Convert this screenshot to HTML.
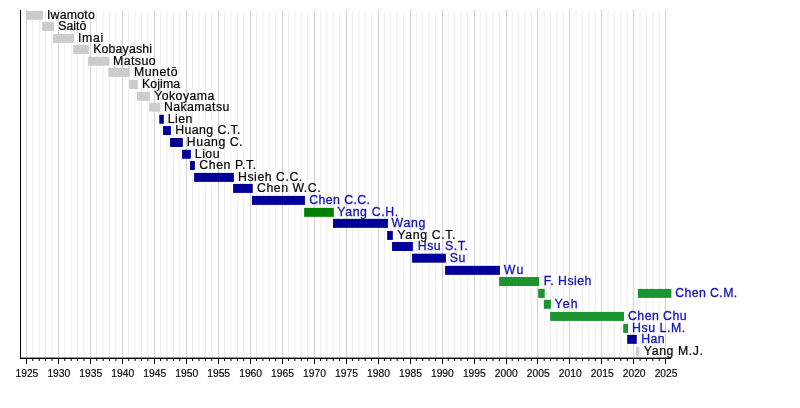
<!DOCTYPE html><html><head><meta charset="utf-8"><style>html,body{margin:0;padding:0;background:#fff;}svg{display:block}text{font-family:"Liberation Sans",sans-serif;} .t{filter:blur(0.3px)}</style></head><body>
<svg width="800" height="408" viewBox="0 0 800 408">
<rect x="0" y="0" width="800" height="408" fill="#fff"/>
<line x1="32.78" y1="11" x2="32.78" y2="357.5" stroke="#ededed" stroke-width="1"/>
<line x1="39.18" y1="11" x2="39.18" y2="357.5" stroke="#ededed" stroke-width="1"/>
<line x1="45.57" y1="11" x2="45.57" y2="357.5" stroke="#ededed" stroke-width="1"/>
<line x1="51.96" y1="11" x2="51.96" y2="357.5" stroke="#ededed" stroke-width="1"/>
<line x1="64.75" y1="11" x2="64.75" y2="357.5" stroke="#ededed" stroke-width="1"/>
<line x1="71.14" y1="11" x2="71.14" y2="357.5" stroke="#ededed" stroke-width="1"/>
<line x1="77.53" y1="11" x2="77.53" y2="357.5" stroke="#ededed" stroke-width="1"/>
<line x1="83.92" y1="11" x2="83.92" y2="357.5" stroke="#ededed" stroke-width="1"/>
<line x1="96.71" y1="11" x2="96.71" y2="357.5" stroke="#ededed" stroke-width="1"/>
<line x1="103.10" y1="11" x2="103.10" y2="357.5" stroke="#ededed" stroke-width="1"/>
<line x1="109.49" y1="11" x2="109.49" y2="357.5" stroke="#ededed" stroke-width="1"/>
<line x1="115.88" y1="11" x2="115.88" y2="357.5" stroke="#ededed" stroke-width="1"/>
<line x1="128.67" y1="11" x2="128.67" y2="357.5" stroke="#ededed" stroke-width="1"/>
<line x1="135.06" y1="11" x2="135.06" y2="357.5" stroke="#ededed" stroke-width="1"/>
<line x1="141.45" y1="11" x2="141.45" y2="357.5" stroke="#ededed" stroke-width="1"/>
<line x1="147.84" y1="11" x2="147.84" y2="357.5" stroke="#ededed" stroke-width="1"/>
<line x1="160.63" y1="11" x2="160.63" y2="357.5" stroke="#ededed" stroke-width="1"/>
<line x1="167.02" y1="11" x2="167.02" y2="357.5" stroke="#ededed" stroke-width="1"/>
<line x1="173.41" y1="11" x2="173.41" y2="357.5" stroke="#ededed" stroke-width="1"/>
<line x1="179.80" y1="11" x2="179.80" y2="357.5" stroke="#ededed" stroke-width="1"/>
<line x1="192.59" y1="11" x2="192.59" y2="357.5" stroke="#ededed" stroke-width="1"/>
<line x1="198.98" y1="11" x2="198.98" y2="357.5" stroke="#ededed" stroke-width="1"/>
<line x1="205.37" y1="11" x2="205.37" y2="357.5" stroke="#ededed" stroke-width="1"/>
<line x1="211.76" y1="11" x2="211.76" y2="357.5" stroke="#ededed" stroke-width="1"/>
<line x1="224.55" y1="11" x2="224.55" y2="357.5" stroke="#ededed" stroke-width="1"/>
<line x1="230.94" y1="11" x2="230.94" y2="357.5" stroke="#ededed" stroke-width="1"/>
<line x1="237.33" y1="11" x2="237.33" y2="357.5" stroke="#ededed" stroke-width="1"/>
<line x1="243.73" y1="11" x2="243.73" y2="357.5" stroke="#ededed" stroke-width="1"/>
<line x1="256.51" y1="11" x2="256.51" y2="357.5" stroke="#ededed" stroke-width="1"/>
<line x1="262.90" y1="11" x2="262.90" y2="357.5" stroke="#ededed" stroke-width="1"/>
<line x1="269.29" y1="11" x2="269.29" y2="357.5" stroke="#ededed" stroke-width="1"/>
<line x1="275.69" y1="11" x2="275.69" y2="357.5" stroke="#ededed" stroke-width="1"/>
<line x1="288.47" y1="11" x2="288.47" y2="357.5" stroke="#ededed" stroke-width="1"/>
<line x1="294.86" y1="11" x2="294.86" y2="357.5" stroke="#ededed" stroke-width="1"/>
<line x1="301.25" y1="11" x2="301.25" y2="357.5" stroke="#ededed" stroke-width="1"/>
<line x1="307.65" y1="11" x2="307.65" y2="357.5" stroke="#ededed" stroke-width="1"/>
<line x1="320.43" y1="11" x2="320.43" y2="357.5" stroke="#ededed" stroke-width="1"/>
<line x1="326.82" y1="11" x2="326.82" y2="357.5" stroke="#ededed" stroke-width="1"/>
<line x1="333.22" y1="11" x2="333.22" y2="357.5" stroke="#ededed" stroke-width="1"/>
<line x1="339.61" y1="11" x2="339.61" y2="357.5" stroke="#ededed" stroke-width="1"/>
<line x1="352.39" y1="11" x2="352.39" y2="357.5" stroke="#ededed" stroke-width="1"/>
<line x1="358.78" y1="11" x2="358.78" y2="357.5" stroke="#ededed" stroke-width="1"/>
<line x1="365.18" y1="11" x2="365.18" y2="357.5" stroke="#ededed" stroke-width="1"/>
<line x1="371.57" y1="11" x2="371.57" y2="357.5" stroke="#ededed" stroke-width="1"/>
<line x1="384.35" y1="11" x2="384.35" y2="357.5" stroke="#ededed" stroke-width="1"/>
<line x1="390.75" y1="11" x2="390.75" y2="357.5" stroke="#ededed" stroke-width="1"/>
<line x1="397.14" y1="11" x2="397.14" y2="357.5" stroke="#ededed" stroke-width="1"/>
<line x1="403.53" y1="11" x2="403.53" y2="357.5" stroke="#ededed" stroke-width="1"/>
<line x1="416.31" y1="11" x2="416.31" y2="357.5" stroke="#ededed" stroke-width="1"/>
<line x1="422.71" y1="11" x2="422.71" y2="357.5" stroke="#ededed" stroke-width="1"/>
<line x1="429.10" y1="11" x2="429.10" y2="357.5" stroke="#ededed" stroke-width="1"/>
<line x1="435.49" y1="11" x2="435.49" y2="357.5" stroke="#ededed" stroke-width="1"/>
<line x1="448.27" y1="11" x2="448.27" y2="357.5" stroke="#ededed" stroke-width="1"/>
<line x1="454.67" y1="11" x2="454.67" y2="357.5" stroke="#ededed" stroke-width="1"/>
<line x1="461.06" y1="11" x2="461.06" y2="357.5" stroke="#ededed" stroke-width="1"/>
<line x1="467.45" y1="11" x2="467.45" y2="357.5" stroke="#ededed" stroke-width="1"/>
<line x1="480.24" y1="11" x2="480.24" y2="357.5" stroke="#ededed" stroke-width="1"/>
<line x1="486.63" y1="11" x2="486.63" y2="357.5" stroke="#ededed" stroke-width="1"/>
<line x1="493.02" y1="11" x2="493.02" y2="357.5" stroke="#ededed" stroke-width="1"/>
<line x1="499.41" y1="11" x2="499.41" y2="357.5" stroke="#ededed" stroke-width="1"/>
<line x1="512.20" y1="11" x2="512.20" y2="357.5" stroke="#ededed" stroke-width="1"/>
<line x1="518.59" y1="11" x2="518.59" y2="357.5" stroke="#ededed" stroke-width="1"/>
<line x1="524.98" y1="11" x2="524.98" y2="357.5" stroke="#ededed" stroke-width="1"/>
<line x1="531.37" y1="11" x2="531.37" y2="357.5" stroke="#ededed" stroke-width="1"/>
<line x1="544.16" y1="11" x2="544.16" y2="357.5" stroke="#ededed" stroke-width="1"/>
<line x1="550.55" y1="11" x2="550.55" y2="357.5" stroke="#ededed" stroke-width="1"/>
<line x1="556.94" y1="11" x2="556.94" y2="357.5" stroke="#ededed" stroke-width="1"/>
<line x1="563.33" y1="11" x2="563.33" y2="357.5" stroke="#ededed" stroke-width="1"/>
<line x1="576.12" y1="11" x2="576.12" y2="357.5" stroke="#ededed" stroke-width="1"/>
<line x1="582.51" y1="11" x2="582.51" y2="357.5" stroke="#ededed" stroke-width="1"/>
<line x1="588.90" y1="11" x2="588.90" y2="357.5" stroke="#ededed" stroke-width="1"/>
<line x1="595.29" y1="11" x2="595.29" y2="357.5" stroke="#ededed" stroke-width="1"/>
<line x1="608.08" y1="11" x2="608.08" y2="357.5" stroke="#ededed" stroke-width="1"/>
<line x1="614.47" y1="11" x2="614.47" y2="357.5" stroke="#ededed" stroke-width="1"/>
<line x1="620.86" y1="11" x2="620.86" y2="357.5" stroke="#ededed" stroke-width="1"/>
<line x1="627.25" y1="11" x2="627.25" y2="357.5" stroke="#ededed" stroke-width="1"/>
<line x1="640.04" y1="11" x2="640.04" y2="357.5" stroke="#ededed" stroke-width="1"/>
<line x1="646.43" y1="11" x2="646.43" y2="357.5" stroke="#ededed" stroke-width="1"/>
<line x1="652.82" y1="11" x2="652.82" y2="357.5" stroke="#ededed" stroke-width="1"/>
<line x1="659.22" y1="11" x2="659.22" y2="357.5" stroke="#ededed" stroke-width="1"/>
<line x1="26.50" y1="9.75" x2="26.50" y2="357.5" stroke="#d2d2d2" stroke-width="1"/>
<line x1="58.50" y1="9.75" x2="58.50" y2="357.5" stroke="#d2d2d2" stroke-width="1"/>
<line x1="90.50" y1="9.75" x2="90.50" y2="357.5" stroke="#d2d2d2" stroke-width="1"/>
<line x1="122.50" y1="9.75" x2="122.50" y2="357.5" stroke="#d2d2d2" stroke-width="1"/>
<line x1="154.50" y1="9.75" x2="154.50" y2="357.5" stroke="#d2d2d2" stroke-width="1"/>
<line x1="186.50" y1="9.75" x2="186.50" y2="357.5" stroke="#d2d2d2" stroke-width="1"/>
<line x1="218.50" y1="9.75" x2="218.50" y2="357.5" stroke="#d2d2d2" stroke-width="1"/>
<line x1="250.50" y1="9.75" x2="250.50" y2="357.5" stroke="#d2d2d2" stroke-width="1"/>
<line x1="282.50" y1="9.75" x2="282.50" y2="357.5" stroke="#d2d2d2" stroke-width="1"/>
<line x1="314.50" y1="9.75" x2="314.50" y2="357.5" stroke="#d2d2d2" stroke-width="1"/>
<line x1="346.50" y1="9.75" x2="346.50" y2="357.5" stroke="#d2d2d2" stroke-width="1"/>
<line x1="378.50" y1="9.75" x2="378.50" y2="357.5" stroke="#d2d2d2" stroke-width="1"/>
<line x1="410.50" y1="9.75" x2="410.50" y2="357.5" stroke="#d2d2d2" stroke-width="1"/>
<line x1="442.50" y1="9.75" x2="442.50" y2="357.5" stroke="#d2d2d2" stroke-width="1"/>
<line x1="474.50" y1="9.75" x2="474.50" y2="357.5" stroke="#d2d2d2" stroke-width="1"/>
<line x1="506.50" y1="9.75" x2="506.50" y2="357.5" stroke="#d2d2d2" stroke-width="1"/>
<line x1="537.50" y1="9.75" x2="537.50" y2="357.5" stroke="#d2d2d2" stroke-width="1"/>
<line x1="569.50" y1="9.75" x2="569.50" y2="357.5" stroke="#d2d2d2" stroke-width="1"/>
<line x1="601.50" y1="9.75" x2="601.50" y2="357.5" stroke="#d2d2d2" stroke-width="1"/>
<line x1="633.50" y1="9.75" x2="633.50" y2="357.5" stroke="#d2d2d2" stroke-width="1"/>
<line x1="665.50" y1="9.75" x2="665.50" y2="357.5" stroke="#d2d2d2" stroke-width="1"/>
<rect x="25.80" y="10.85" width="17.20" height="9.0" fill="#cccccc"/>
<rect x="42.20" y="21.90" width="11.65" height="9.0" fill="#cccccc"/>
<rect x="53.05" y="33.80" width="21.00" height="9.0" fill="#cccccc"/>
<rect x="73.25" y="44.90" width="15.60" height="9.0" fill="#cccccc"/>
<rect x="88.05" y="56.70" width="20.95" height="9.0" fill="#cccccc"/>
<rect x="108.20" y="67.90" width="21.70" height="9.0" fill="#cccccc"/>
<rect x="129.10" y="79.90" width="8.75" height="9.0" fill="#cccccc"/>
<rect x="137.05" y="91.80" width="12.85" height="9.0" fill="#cccccc"/>
<rect x="149.10" y="102.70" width="10.95" height="9.0" fill="#cccccc"/>
<rect x="159.25" y="114.75" width="4.60" height="9.0" fill="#000099"/>
<rect x="163.05" y="126.05" width="7.85" height="9.0" fill="#000099"/>
<rect x="170.10" y="138.00" width="12.75" height="9.0" fill="#000099"/>
<rect x="182.05" y="149.75" width="8.80" height="9.0" fill="#000099"/>
<rect x="190.05" y="161.00" width="4.85" height="9.0" fill="#000099"/>
<rect x="194.10" y="172.90" width="39.80" height="9.0" fill="#000099"/>
<rect x="233.10" y="183.90" width="19.65" height="9.0" fill="#000099"/>
<rect x="251.95" y="195.90" width="53.00" height="9.0" fill="#000099"/>
<rect x="304.15" y="207.85" width="29.65" height="9.0" fill="#008000"/>
<rect x="333.00" y="218.85" width="54.95" height="9.0" fill="#000099"/>
<rect x="387.15" y="230.95" width="5.70" height="9.0" fill="#000099"/>
<rect x="392.05" y="242.00" width="20.85" height="9.0" fill="#000099"/>
<rect x="412.10" y="253.70" width="33.80" height="9.0" fill="#000099"/>
<rect x="445.10" y="265.85" width="54.80" height="9.0" fill="#000099"/>
<rect x="499.10" y="277.00" width="39.90" height="9.0" fill="#1b9431"/>
<rect x="538.20" y="288.90" width="6.50" height="9.0" fill="#1b9431"/>
<rect x="637.90" y="288.90" width="33.50" height="9.0" fill="#1b9431"/>
<rect x="543.90" y="299.80" width="7.00" height="9.0" fill="#1b9431"/>
<rect x="550.10" y="311.90" width="73.95" height="9.0" fill="#1b9431"/>
<rect x="623.25" y="323.90" width="4.75" height="9.0" fill="#1b9431"/>
<rect x="627.20" y="334.85" width="9.55" height="9.0" fill="#000099"/>
<rect x="635.95" y="346.70" width="3.15" height="9.0" fill="#cccccc"/>
<g class="t"><text x="46.95" y="18.70" font-size="12.3" textLength="47.88" lengthAdjust="spacing" fill="#000000" stroke="#000000" stroke-width="0.2">Iwamoto</text><text x="58.21" y="29.75" font-size="12.3" textLength="28.06" lengthAdjust="spacing" fill="#000000" stroke="#000000" stroke-width="0.2">Saitō</text><text x="77.89" y="41.65" font-size="12.3" textLength="25.23" lengthAdjust="spacing" fill="#000000" stroke="#000000" stroke-width="0.2">Imai</text><text x="93.13" y="52.75" font-size="12.3" textLength="58.92" lengthAdjust="spacing" fill="#000000" stroke="#000000" stroke-width="0.2">Kobayashi</text><text x="113.01" y="64.55" font-size="12.3" textLength="42.49" lengthAdjust="spacing" fill="#000000" stroke="#000000" stroke-width="0.2">Matsuo</text><text x="134.05" y="75.75" font-size="12.3" textLength="43.47" lengthAdjust="spacing" fill="#000000" stroke="#000000" stroke-width="0.2">Munetō</text><text x="142.05" y="87.75" font-size="12.3" textLength="38.00" lengthAdjust="spacing" fill="#000000" stroke="#000000" stroke-width="0.2">Kojima</text><text x="154.14" y="99.65" font-size="12.3" textLength="60.24" lengthAdjust="spacing" fill="#000000" stroke="#000000" stroke-width="0.2">Yokoyama</text><text x="163.96" y="110.55" font-size="12.3" textLength="65.30" lengthAdjust="spacing" fill="#000000" stroke="#000000" stroke-width="0.2">Nakamatsu</text><text x="167.84" y="122.60" font-size="12.3" textLength="24.50" lengthAdjust="spacing" fill="#000000" stroke="#000000" stroke-width="0.2">Lien</text><text x="175.18" y="133.90" font-size="12.3" textLength="65.35" lengthAdjust="spacing" fill="#000000" stroke="#000000" stroke-width="0.2">Huang C.T.</text><text x="186.84" y="145.85" font-size="12.3" textLength="55.70" lengthAdjust="spacing" fill="#000000" stroke="#000000" stroke-width="0.2">Huang C.</text><text x="194.84" y="157.60" font-size="12.3" textLength="24.66" lengthAdjust="spacing" fill="#000000" stroke="#000000" stroke-width="0.2">Liou</text><text x="199.37" y="168.85" font-size="12.3" textLength="56.81" lengthAdjust="spacing" fill="#000000" stroke="#000000" stroke-width="0.2">Chen P.T.</text><text x="238.02" y="180.75" font-size="12.3" textLength="64.27" lengthAdjust="spacing" fill="#000000" stroke="#000000" stroke-width="0.2">Hsieh C.C.</text><text x="257.07" y="191.75" font-size="12.3" textLength="63.50" lengthAdjust="spacing" fill="#000000" stroke="#000000" stroke-width="0.2">Chen W.C.</text><text x="309.25" y="203.75" font-size="12.3" textLength="60.77" lengthAdjust="spacing" fill="#1414b4" stroke="#1414b4" stroke-width="0.3">Chen C.C.</text><text x="337.22" y="215.70" font-size="12.3" textLength="60.96" lengthAdjust="spacing" fill="#1414b4" stroke="#1414b4" stroke-width="0.3">Yang C.H.</text><text x="391.61" y="226.70" font-size="12.3" textLength="33.77" lengthAdjust="spacing" fill="#1414b4" stroke="#1414b4" stroke-width="0.3">Wang</text><text x="397.33" y="238.80" font-size="12.3" textLength="58.19" lengthAdjust="spacing" fill="#000000" stroke="#000000" stroke-width="0.2">Yang C.T.</text><text x="417.77" y="249.85" font-size="12.3" textLength="49.92" lengthAdjust="spacing" fill="#1414b4" stroke="#1414b4" stroke-width="0.3">Hsu S.T.</text><text x="449.87" y="261.55" font-size="12.3" textLength="15.36" lengthAdjust="spacing" fill="#1414b4" stroke="#1414b4" stroke-width="0.3">Su</text><text x="503.85" y="273.70" font-size="12.3" textLength="19.53" lengthAdjust="spacing" fill="#1414b4" stroke="#1414b4" stroke-width="0.3">Wu</text><text x="543.67" y="284.85" font-size="12.3" textLength="47.73" lengthAdjust="spacing" fill="#1414b4" stroke="#1414b4" stroke-width="0.3">F. Hsieh</text><text x="675.24" y="296.75" font-size="12.3" textLength="61.96" lengthAdjust="spacing" fill="#1414b4" stroke="#1414b4" stroke-width="0.3">Chen C.M.</text><text x="554.53" y="307.65" font-size="12.3" textLength="23.14" lengthAdjust="spacing" fill="#1414b4" stroke="#1414b4" stroke-width="0.3">Yeh</text><text x="627.98" y="319.75" font-size="12.3" textLength="58.61" lengthAdjust="spacing" fill="#1414b4" stroke="#1414b4" stroke-width="0.3">Chen Chu</text><text x="631.98" y="331.75" font-size="12.3" textLength="53.17" lengthAdjust="spacing" fill="#1414b4" stroke="#1414b4" stroke-width="0.3">Hsu L.M.</text><text x="641.34" y="342.70" font-size="12.3" textLength="23.21" lengthAdjust="spacing" fill="#1414b4" stroke="#1414b4" stroke-width="0.3">Han</text><text x="643.86" y="354.55" font-size="12.3" textLength="59.05" lengthAdjust="spacing" fill="#000000" stroke="#000000" stroke-width="0.2">Yang M.J.</text></g>
<rect x="20" y="10" width="1" height="349" fill="#000"/>
<rect x="20" y="357.6" width="651" height="1.4" fill="#000"/>
<rect x="26.00" y="358" width="1" height="6" fill="#000"/>
<rect x="32.28" y="358" width="1" height="3" fill="#000"/>
<rect x="38.68" y="358" width="1" height="3" fill="#000"/>
<rect x="45.07" y="358" width="1" height="3" fill="#000"/>
<rect x="51.46" y="358" width="1" height="3" fill="#000"/>
<rect x="58.00" y="358" width="1" height="6" fill="#000"/>
<rect x="64.25" y="358" width="1" height="3" fill="#000"/>
<rect x="70.64" y="358" width="1" height="3" fill="#000"/>
<rect x="77.03" y="358" width="1" height="3" fill="#000"/>
<rect x="83.42" y="358" width="1" height="3" fill="#000"/>
<rect x="90.00" y="358" width="1" height="6" fill="#000"/>
<rect x="96.21" y="358" width="1" height="3" fill="#000"/>
<rect x="102.60" y="358" width="1" height="3" fill="#000"/>
<rect x="108.99" y="358" width="1" height="3" fill="#000"/>
<rect x="115.38" y="358" width="1" height="3" fill="#000"/>
<rect x="122.00" y="358" width="1" height="6" fill="#000"/>
<rect x="128.17" y="358" width="1" height="3" fill="#000"/>
<rect x="134.56" y="358" width="1" height="3" fill="#000"/>
<rect x="140.95" y="358" width="1" height="3" fill="#000"/>
<rect x="147.34" y="358" width="1" height="3" fill="#000"/>
<rect x="154.00" y="358" width="1" height="6" fill="#000"/>
<rect x="160.13" y="358" width="1" height="3" fill="#000"/>
<rect x="166.52" y="358" width="1" height="3" fill="#000"/>
<rect x="172.91" y="358" width="1" height="3" fill="#000"/>
<rect x="179.30" y="358" width="1" height="3" fill="#000"/>
<rect x="186.00" y="358" width="1" height="6" fill="#000"/>
<rect x="192.09" y="358" width="1" height="3" fill="#000"/>
<rect x="198.48" y="358" width="1" height="3" fill="#000"/>
<rect x="204.87" y="358" width="1" height="3" fill="#000"/>
<rect x="211.26" y="358" width="1" height="3" fill="#000"/>
<rect x="218.00" y="358" width="1" height="6" fill="#000"/>
<rect x="224.05" y="358" width="1" height="3" fill="#000"/>
<rect x="230.44" y="358" width="1" height="3" fill="#000"/>
<rect x="236.83" y="358" width="1" height="3" fill="#000"/>
<rect x="243.23" y="358" width="1" height="3" fill="#000"/>
<rect x="250.00" y="358" width="1" height="6" fill="#000"/>
<rect x="256.01" y="358" width="1" height="3" fill="#000"/>
<rect x="262.40" y="358" width="1" height="3" fill="#000"/>
<rect x="268.79" y="358" width="1" height="3" fill="#000"/>
<rect x="275.19" y="358" width="1" height="3" fill="#000"/>
<rect x="282.00" y="358" width="1" height="6" fill="#000"/>
<rect x="287.97" y="358" width="1" height="3" fill="#000"/>
<rect x="294.36" y="358" width="1" height="3" fill="#000"/>
<rect x="300.75" y="358" width="1" height="3" fill="#000"/>
<rect x="307.15" y="358" width="1" height="3" fill="#000"/>
<rect x="314.00" y="358" width="1" height="6" fill="#000"/>
<rect x="319.93" y="358" width="1" height="3" fill="#000"/>
<rect x="326.32" y="358" width="1" height="3" fill="#000"/>
<rect x="332.72" y="358" width="1" height="3" fill="#000"/>
<rect x="339.11" y="358" width="1" height="3" fill="#000"/>
<rect x="346.00" y="358" width="1" height="6" fill="#000"/>
<rect x="351.89" y="358" width="1" height="3" fill="#000"/>
<rect x="358.28" y="358" width="1" height="3" fill="#000"/>
<rect x="364.68" y="358" width="1" height="3" fill="#000"/>
<rect x="371.07" y="358" width="1" height="3" fill="#000"/>
<rect x="378.00" y="358" width="1" height="6" fill="#000"/>
<rect x="383.85" y="358" width="1" height="3" fill="#000"/>
<rect x="390.25" y="358" width="1" height="3" fill="#000"/>
<rect x="396.64" y="358" width="1" height="3" fill="#000"/>
<rect x="403.03" y="358" width="1" height="3" fill="#000"/>
<rect x="410.00" y="358" width="1" height="6" fill="#000"/>
<rect x="415.81" y="358" width="1" height="3" fill="#000"/>
<rect x="422.21" y="358" width="1" height="3" fill="#000"/>
<rect x="428.60" y="358" width="1" height="3" fill="#000"/>
<rect x="434.99" y="358" width="1" height="3" fill="#000"/>
<rect x="442.00" y="358" width="1" height="6" fill="#000"/>
<rect x="447.77" y="358" width="1" height="3" fill="#000"/>
<rect x="454.17" y="358" width="1" height="3" fill="#000"/>
<rect x="460.56" y="358" width="1" height="3" fill="#000"/>
<rect x="466.95" y="358" width="1" height="3" fill="#000"/>
<rect x="474.00" y="358" width="1" height="6" fill="#000"/>
<rect x="479.74" y="358" width="1" height="3" fill="#000"/>
<rect x="486.13" y="358" width="1" height="3" fill="#000"/>
<rect x="492.52" y="358" width="1" height="3" fill="#000"/>
<rect x="498.91" y="358" width="1" height="3" fill="#000"/>
<rect x="506.00" y="358" width="1" height="6" fill="#000"/>
<rect x="511.70" y="358" width="1" height="3" fill="#000"/>
<rect x="518.09" y="358" width="1" height="3" fill="#000"/>
<rect x="524.48" y="358" width="1" height="3" fill="#000"/>
<rect x="530.87" y="358" width="1" height="3" fill="#000"/>
<rect x="537.00" y="358" width="1" height="6" fill="#000"/>
<rect x="543.66" y="358" width="1" height="3" fill="#000"/>
<rect x="550.05" y="358" width="1" height="3" fill="#000"/>
<rect x="556.44" y="358" width="1" height="3" fill="#000"/>
<rect x="562.83" y="358" width="1" height="3" fill="#000"/>
<rect x="569.00" y="358" width="1" height="6" fill="#000"/>
<rect x="575.62" y="358" width="1" height="3" fill="#000"/>
<rect x="582.01" y="358" width="1" height="3" fill="#000"/>
<rect x="588.40" y="358" width="1" height="3" fill="#000"/>
<rect x="594.79" y="358" width="1" height="3" fill="#000"/>
<rect x="601.00" y="358" width="1" height="6" fill="#000"/>
<rect x="607.58" y="358" width="1" height="3" fill="#000"/>
<rect x="613.97" y="358" width="1" height="3" fill="#000"/>
<rect x="620.36" y="358" width="1" height="3" fill="#000"/>
<rect x="626.75" y="358" width="1" height="3" fill="#000"/>
<rect x="633.00" y="358" width="1" height="6" fill="#000"/>
<rect x="639.54" y="358" width="1" height="3" fill="#000"/>
<rect x="645.93" y="358" width="1" height="3" fill="#000"/>
<rect x="652.32" y="358" width="1" height="3" fill="#000"/>
<rect x="658.72" y="358" width="1" height="3" fill="#000"/>
<rect x="665.00" y="358" width="1" height="6" fill="#000"/>
<g class="t"><text x="26.89" y="376.9" font-size="10.3" text-anchor="middle" fill="#000" stroke="#000" stroke-width="0.15">1925</text><text x="58.85" y="376.9" font-size="10.3" text-anchor="middle" fill="#000" stroke="#000" stroke-width="0.15">1930</text><text x="90.81" y="376.9" font-size="10.3" text-anchor="middle" fill="#000" stroke="#000" stroke-width="0.15">1935</text><text x="122.77" y="376.9" font-size="10.3" text-anchor="middle" fill="#000" stroke="#000" stroke-width="0.15">1940</text><text x="154.74" y="376.9" font-size="10.3" text-anchor="middle" fill="#000" stroke="#000" stroke-width="0.15">1945</text><text x="186.70" y="376.9" font-size="10.3" text-anchor="middle" fill="#000" stroke="#000" stroke-width="0.15">1950</text><text x="218.66" y="376.9" font-size="10.3" text-anchor="middle" fill="#000" stroke="#000" stroke-width="0.15">1955</text><text x="250.62" y="376.9" font-size="10.3" text-anchor="middle" fill="#000" stroke="#000" stroke-width="0.15">1960</text><text x="282.58" y="376.9" font-size="10.3" text-anchor="middle" fill="#000" stroke="#000" stroke-width="0.15">1965</text><text x="314.54" y="376.9" font-size="10.3" text-anchor="middle" fill="#000" stroke="#000" stroke-width="0.15">1970</text><text x="346.50" y="376.9" font-size="10.3" text-anchor="middle" fill="#000" stroke="#000" stroke-width="0.15">1975</text><text x="378.46" y="376.9" font-size="10.3" text-anchor="middle" fill="#000" stroke="#000" stroke-width="0.15">1980</text><text x="410.42" y="376.9" font-size="10.3" text-anchor="middle" fill="#000" stroke="#000" stroke-width="0.15">1985</text><text x="442.38" y="376.9" font-size="10.3" text-anchor="middle" fill="#000" stroke="#000" stroke-width="0.15">1990</text><text x="474.34" y="376.9" font-size="10.3" text-anchor="middle" fill="#000" stroke="#000" stroke-width="0.15">1995</text><text x="506.30" y="376.9" font-size="10.3" text-anchor="middle" fill="#000" stroke="#000" stroke-width="0.15">2000</text><text x="538.26" y="376.9" font-size="10.3" text-anchor="middle" fill="#000" stroke="#000" stroke-width="0.15">2005</text><text x="570.23" y="376.9" font-size="10.3" text-anchor="middle" fill="#000" stroke="#000" stroke-width="0.15">2010</text><text x="602.19" y="376.9" font-size="10.3" text-anchor="middle" fill="#000" stroke="#000" stroke-width="0.15">2015</text><text x="634.15" y="376.9" font-size="10.3" text-anchor="middle" fill="#000" stroke="#000" stroke-width="0.15">2020</text><text x="666.11" y="376.9" font-size="10.3" text-anchor="middle" fill="#000" stroke="#000" stroke-width="0.15">2025</text></g>
</svg></body></html>
